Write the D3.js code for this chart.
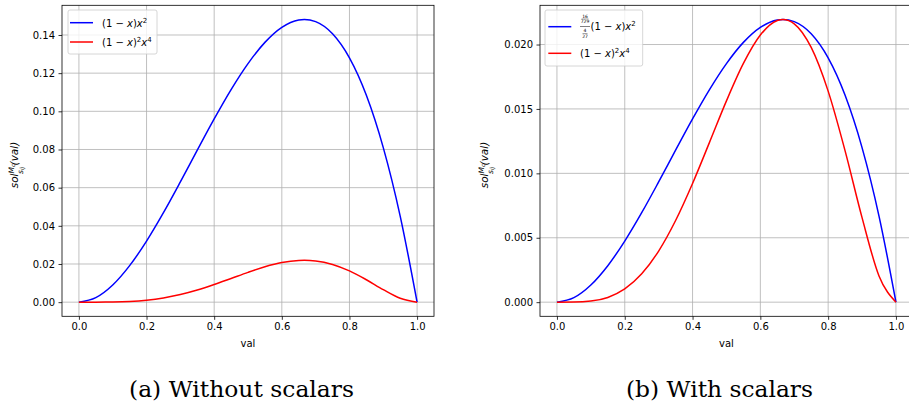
<!DOCTYPE html>
<html>
<head>
<meta charset="utf-8">
<script src="https://cdn.jsdelivr.net/npm/d3@7"></script>
<style>
  body { margin: 0; background: #fff; }
  svg { display: block; }
</style>
</head>
<body>
<div id="chart"></div>
<script>
// sample positions along val
var xs = [0, 0.05, 0.1, 0.15, 0.2, 0.25, 0.3, 0.35, 0.4, 0.45, 0.5, 0.55, 0.6, 0.65, 0.6667, 0.7, 0.75, 0.8, 0.85, 0.9, 0.95, 1];

// (1-x)x^2
var blueA = [0, 0.00238, 0.009, 0.01913, 0.032, 0.04688, 0.063, 0.07963, 0.096, 0.11138, 0.125, 0.13613, 0.144, 0.14788, 0.14815, 0.147, 0.14063, 0.128, 0.10838, 0.081, 0.04513, 0];
// (1-x)^2 x^4 (same in both panels)
var redA = [0, 0.0000056, 0.000081, 0.000366, 0.001024, 0.002197, 0.003969, 0.00634, 0.009216, 0.012404, 0.015625, 0.01853, 0.020736, 0.021867, 0.021948, 0.021609, 0.019775, 0.016384, 0.011745, 0.006561, 0.002036, 0];
// scaled (1-x)x^2
var blueB = [0, 0.000352, 0.001333, 0.002833, 0.004741, 0.006944, 0.009333, 0.011796, 0.014222, 0.0165, 0.018519, 0.020167, 0.021333, 0.021907, 0.021948, 0.021778, 0.020833, 0.018963, 0.016056, 0.012, 0.006685, 0];

var xTicks = [0, 0.2, 0.4, 0.6, 0.8, 1.0];
var yTicksA = [0, 0.02, 0.04, 0.06, 0.08, 0.10, 0.12, 0.14];
var yTicksB = [0, 0.005, 0.010, 0.015, 0.020];

var W = 909, H = 408;
var svg = d3.select("#chart").append("svg")
  .attr("width", W).attr("height", H);

var tickFont = "'DejaVu Sans', sans-serif";

function panel(opt) {
  var x = d3.scaleLinear().domain([-0.05, 1.05]).range([opt.left, opt.right]);
  var y = d3.scaleLinear().domain(opt.ydom).range([316.3, 5.3]);
  var g = svg.append("g");

  // grid
  g.selectAll(".gx").data(xTicks).enter().append("line")
    .attr("x1", d => x(d)).attr("x2", d => x(d))
    .attr("y1", y.range()[0]).attr("y2", y.range()[1])
    .attr("stroke", "#b0b0b0").attr("stroke-width", 0.8);
  g.selectAll(".gy").data(opt.yticks).enter().append("line")
    .attr("x1", opt.left).attr("x2", opt.right)
    .attr("y1", d => y(d)).attr("y2", d => y(d))
    .attr("stroke", "#b0b0b0").attr("stroke-width", 0.8);

  // curves
  var line = d3.line()
    .x((d, i) => x(xs[i]))
    .y(d => y(d))
    .curve(d3.curveMonotoneX);
  opt.series.forEach(function(s) {
    g.append("path").datum(s.values)
      .attr("d", line)
      .attr("fill", "none")
      .attr("stroke", s.color)
      .attr("stroke-width", 1.5);
  });

  // axes
  var xa = g.append("g")
    .attr("transform", "translate(0," + y.range()[0] + ")")
    .call(d3.axisBottom(x).tickValues(xTicks).tickFormat(d3.format(".1f")).tickSizeOuter(0).tickSize(3.5).tickPadding(3.5));
  var ya = g.append("g")
    .attr("transform", "translate(" + opt.left + ",0)")
    .call(d3.axisLeft(y).tickValues(opt.yticks).tickFormat(d3.format(opt.yfmt)).tickSizeOuter(0).tickSize(3.5).tickPadding(3.5));
  [xa, ya].forEach(function(a) {
    a.select(".domain").remove();
    a.selectAll("text").style("font-family", tickFont).style("font-size", "10px").attr("fill", "#000");
    a.selectAll("line").attr("stroke", "#000").attr("stroke-width", 0.8);
  });

  // frame
  g.append("rect")
    .attr("x", opt.left).attr("y", y.range()[1])
    .attr("width", opt.right - opt.left).attr("height", y.range()[0] - y.range()[1])
    .attr("fill", "none").attr("stroke", "#000").attr("stroke-width", 0.8);

  // x label
  g.append("text")
    .attr("x", (opt.left + opt.right) / 2).attr("y", 347)
    .attr("text-anchor", "middle")
    .style("font-family", tickFont).style("font-size", "10px")
    .text("val");

  // y label: sol^{M_c}_{s_ij}(val)
  var yl = g.append("text")
    .attr("transform", "translate(" + opt.ylabX + ",165) rotate(-90)")
    .attr("text-anchor", "middle")
    .style("font-family", tickFont).style("font-size", "10.5px").style("font-style", "italic");
  yl.append("tspan").text("sol");
  yl.append("tspan").attr("dy", -4.5).style("font-size", "7.5px").text("M");
  yl.append("tspan").attr("dy", 1.5).style("font-size", "5.5px").text("c");
  yl.append("tspan").attr("dx", -10).attr("dy", 7.5).style("font-size", "7.5px").text("s");
  yl.append("tspan").attr("dy", 1.5).style("font-size", "5.5px").text("ij");
  yl.append("tspan").attr("dx", 1.5).attr("dy", -6).text("(val)");

  // caption
  svg.append("text")
    .attr("x", opt.capX).attr("y", 397)
    .attr("textLength", opt.capW).attr("lengthAdjust", "spacingAndGlyphs")
    .style("font-family", "'DejaVu Serif', serif").style("font-size", "22px")
    .text(opt.caption);

  return { x: x, y: y, g: g };
}

// math legend label (1 - x)x^2 style
function mathLabel(sel, x0, y0, sq1, sup2) {
  var t = sel.append("text").attr("x", x0).attr("y", y0)
    .style("font-family", tickFont).style("font-size", "10px");
  t.append("tspan").text("(1 \u2212 ");
  t.append("tspan").style("font-style", "italic").text("x");
  t.append("tspan").text(")");
  if (sq1) t.append("tspan").attr("dy", -4).style("font-size", "7px").text(sq1);
  t.append("tspan").attr("dy", sq1 ? 4 : 0).style("font-style", "italic").text("x");
  t.append("tspan").attr("dy", -4).style("font-size", "7px").text(sup2);
  return t;
}

function legendBox(x0, y0, w, h) {
  svg.append("rect")
    .attr("x", x0).attr("y", y0).attr("width", w).attr("height", h)
    .attr("rx", 2).attr("fill", "#fff").attr("fill-opacity", 0.8)
    .attr("stroke", "#cccccc").attr("stroke-width", 0.8);
}

function legendLine(x0, yy, color) {
  svg.append("line").attr("x1", x0).attr("x2", x0 + 23)
    .attr("y1", yy).attr("y2", yy)
    .attr("stroke", color).attr("stroke-width", 1.5);
}

// panel (a)
panel({
  left: 62, right: 434, ydom: [-0.0074074, 0.1555556], yticks: yTicksA, yfmt: ".2f",
  ylabX: 18, caption: "(a) Without scalars", capX: 129, capW: 225,
  series: [{ values: blueA, color: "#0000ff" }, { values: redA, color: "#ff0000" }]
});
legendBox(68, 10, 89, 44);
legendLine(70, 22.7, "#0000ff");
legendLine(70, 42, "#ff0000");
mathLabel(svg, 102, 26.5, null, "2");
mathLabel(svg, 102, 45.8, "2", "4");

// panel (b)
panel({
  left: 540, right: 912.9, ydom: [-0.0010974, 0.0230453], yticks: yTicksB, yfmt: ".3f",
  ylabX: 488, caption: "(b) With scalars", capX: 626, capW: 187,
  series: [{ values: blueB, color: "#0000ff" }, { values: redA, color: "#ff0000" }]
});
legendBox(545, 10, 97.7, 56);
legendLine(548.3, 26.7, "#0000ff");
legendLine(548.3, 53.3, "#ff0000");

// nested fraction (16/729)/(4/27)
var fr = svg.append("g").style("font-family", tickFont).attr("text-anchor", "middle");
fr.append("line").attr("x1", 580).attr("x2", 590).attr("y1", 26.5).attr("y2", 26.5).attr("stroke", "#000").attr("stroke-width", 0.5);
fr.append("text").attr("x", 585).attr("y", 17.5).style("font-size", "4.5px").text("16");
fr.append("line").attr("x1", 581.5).attr("x2", 588.5).attr("y1", 19).attr("y2", 19).attr("stroke", "#000").attr("stroke-width", 0.4);
fr.append("text").attr("x", 585).attr("y", 23.2).style("font-size", "4.5px").text("729");
fr.append("text").attr("x", 585).attr("y", 32.3).style("font-size", "4.5px").text("4");
fr.append("line").attr("x1", 582.5).attr("x2", 587.5).attr("y1", 33.6).attr("y2", 33.6).attr("stroke", "#000").attr("stroke-width", 0.4);
fr.append("text").attr("x", 585).attr("y", 38).style("font-size", "4.5px").text("27");
mathLabel(svg, 590.5, 30.3, null, "2");
mathLabel(svg, 580, 57, "2", "4");
</script>
</body>
</html>
